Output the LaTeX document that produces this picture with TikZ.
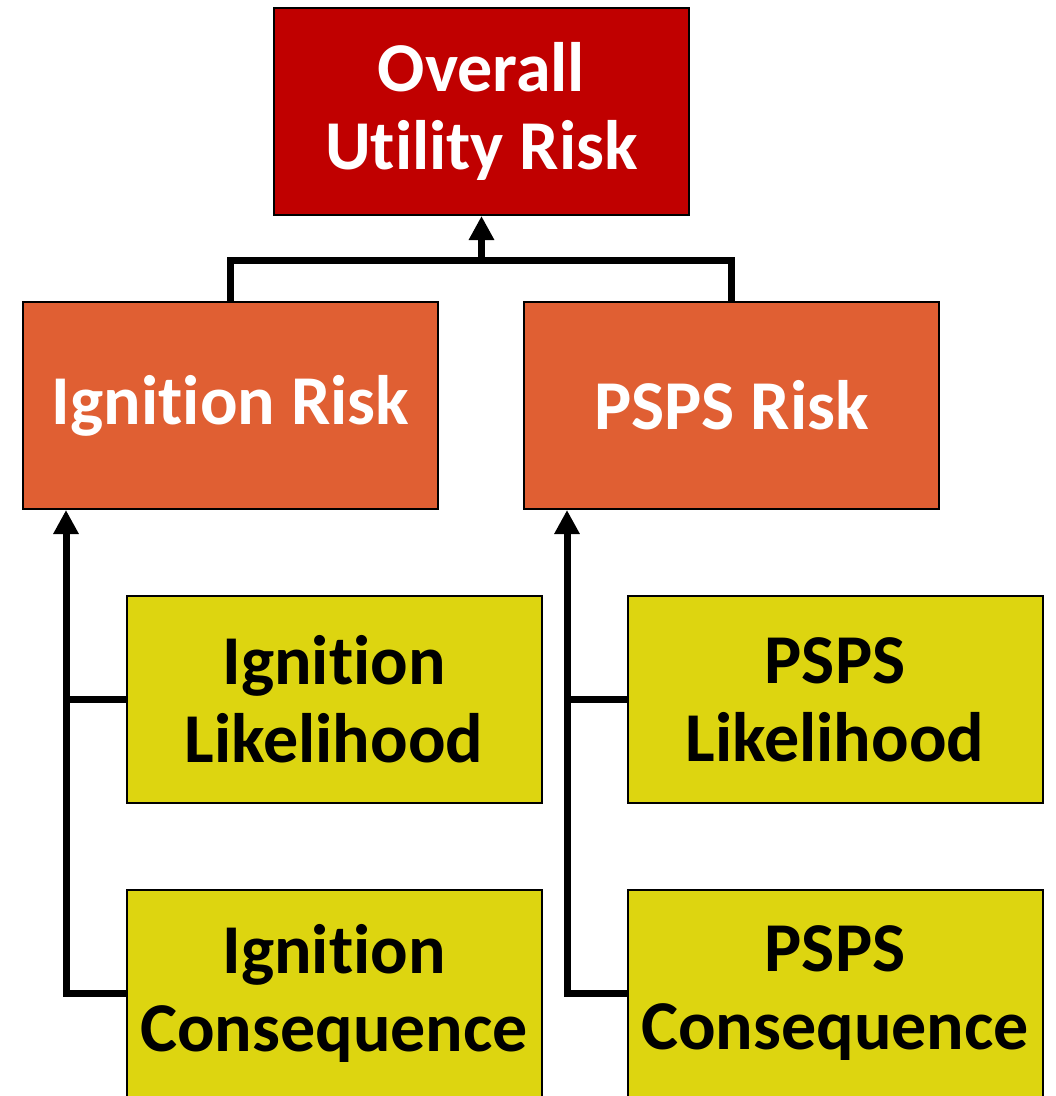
\documentclass[tikz,border=0pt]{standalone}
\usepackage{fontspec}
\setmainfont{Carlito}[Ligatures=NoCommon]
\usetikzlibrary{arrows.meta}
\definecolor{topred}{HTML}{C00000}
\definecolor{midorange}{HTML}{E05F33}
\definecolor{leafyellow}{HTML}{DDD510}
\begin{document}
\begin{tikzpicture}[x=1pt,y=-1pt,
  box/.style={draw=black, line width=2pt, minimum width=415pt, minimum height=207pt,
    inner sep=0pt, align=center, font=\fontsize{70}{78}\selectfont\bfseries},
  toplevel/.style={box, fill=topred, text=white},
  midlevel/.style={box, fill=midorange, text=white},
  leaf/.style={box, fill=leafyellow, text=black},
  wire/.style={line width=7pt, draw=black, line join=miter},
  feed/.style={wire, -{Triangle[length=24pt,width=24pt]}}]
\useasboundingbox (0,0) rectangle (1056,1096);

% boxes
\node[toplevel] (top) at (481.5,111.5) {Overall\\Utility Risk};
\node[midlevel] (ir) at (230.5,405.5) {Ignition Risk};
\node[midlevel] (pr) at (731.5,405.5) {PSPS Risk};
\node[leaf] (il) at (334,699.5) {Ignition\\Likelihood};
\node[leaf] (ic) at (334,993.5) {Ignition\\Consequence};
\node[leaf] (pl) at (835,699.5) {PSPS\\Likelihood};
\node[leaf] (pc) at (835,993.5) {PSPS\\Consequence};

% junction points
\coordinate (join) at (481.5,260);
\coordinate (lspine) at (66,995);
\coordinate (rspine) at (567,995);

% second level feeds the overall risk
\draw[wire] (ir.north) |- (join) -| (pr.north);
\draw[feed] (join) -- (top.south);

% ignition branch
\draw[feed] (ic.west) -| (lspine |- ir.south);
\draw[wire] (il.west) -- (il.west -| lspine);

% PSPS branch
\draw[feed] (pc.west) -| (rspine |- pr.south);
\draw[wire] (pl.west) -- (pl.west -| rspine);
\end{tikzpicture}
\end{document}
